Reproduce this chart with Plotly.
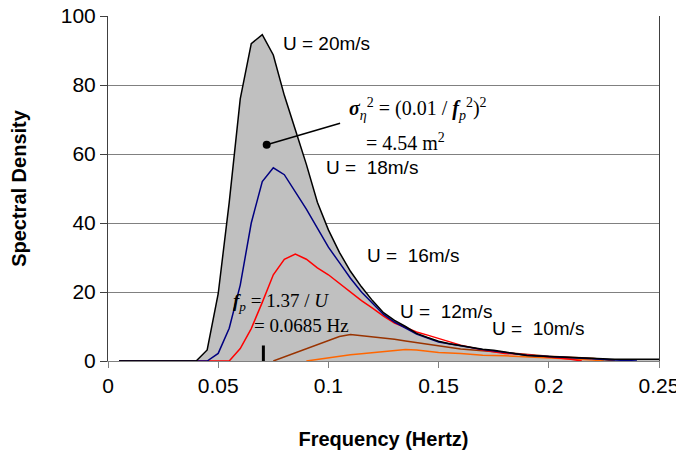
import plotly.graph_objects as go

# U = 20 m/s (black, grey fill)
f20 = [0.005, 0.04, 0.045, 0.05, 0.055, 0.06, 0.065, 0.07, 0.075, 0.08, 0.085, 0.09, 0.095, 0.1,
       0.105, 0.11, 0.115, 0.12, 0.125, 0.13, 0.135, 0.14, 0.145, 0.15, 0.155, 0.16, 0.165, 0.17,
       0.175, 0.18, 0.185, 0.19, 0.2, 0.21, 0.22, 0.23, 0.25]
s20 = [0, 0, 3.2, 19.5, 46, 76, 92, 94.6, 88.7, 77, 67, 57, 46, 38,
       31.5, 26, 21.5, 17.5, 14, 11.8, 10, 8, 6.8, 5.7, 5, 4.4, 3.9, 3.4,
       3.1, 2.6, 2.0, 1.6, 1.3, 1.0, 0.8, 0.5, 0.5]

# U = 18 m/s (navy)
f18 = [0.005, 0.045, 0.05, 0.055, 0.06, 0.065, 0.07, 0.075, 0.08, 0.085, 0.09, 0.095, 0.1, 0.105,
       0.11, 0.115, 0.12, 0.125, 0.13, 0.135, 0.14, 0.15, 0.16, 0.17, 0.18, 0.19, 0.2, 0.21, 0.22,
       0.23, 0.24]
s18 = [0, 0, 2.2, 9.5, 22, 40, 52, 56, 54, 49, 44, 38.5, 33, 28.5,
       24, 20, 16.8, 13.5, 11.3, 9.5, 7.8, 5.5, 4.3, 3.3, 2.5, 1.7, 1.3, 0.9, 0.6,
       0.3, 0]

# U = 16 m/s (red)
f16 = [0.005, 0.055, 0.06, 0.065, 0.07, 0.075, 0.08, 0.085, 0.09, 0.095, 0.1, 0.105, 0.11, 0.115,
       0.12, 0.125, 0.13, 0.135, 0.14, 0.145, 0.15, 0.155, 0.16, 0.17, 0.18, 0.19, 0.2, 0.21, 0.215]
s16 = [0, 0, 3.6, 9.4, 17, 25, 29.5, 31, 29.5, 27, 25, 22.5, 20, 17.5,
       15.3, 13, 11, 9.6, 8.4, 7.5, 6.5, 5.5, 4.6, 3.2, 2.2, 1.8, 1.2, 0.5, 0]

# U = 12 m/s (brown)
f12 = [0.075, 0.08, 0.085, 0.09, 0.095, 0.1, 0.105, 0.11, 0.115, 0.12, 0.125, 0.13, 0.135, 0.14,
       0.145, 0.15, 0.16, 0.17, 0.18, 0.19, 0.2, 0.21, 0.22, 0.23]
s12 = [0, 1.2, 2.3, 3.5, 4.9, 6.0, 7.1, 7.7, 7.4, 7.0, 6.8, 6.3, 5.8, 5.3,
       4.8, 4.3, 3.5, 3.0, 2.5, 1.8, 1.4, 1.1, 0.8, 0]

# U = 10 m/s (orange)
f10 = [0.09, 0.095, 0.1, 0.105, 0.11, 0.115, 0.12, 0.125, 0.13, 0.135, 0.14, 0.145, 0.15, 0.16,
       0.17, 0.18, 0.19, 0.2, 0.21, 0.22, 0.225]
s10 = [0, 0.5, 1.0, 1.4, 1.8, 2.1, 2.4, 2.7, 2.9, 3.3, 3.2, 2.8, 2.5, 2.2,
       1.7, 1.5, 1.2, 1.0, 0.7, 0.3, 0]

x_ticks = [0, 0.05, 0.1, 0.15, 0.2, 0.25]
x_tick_labels = ["0", "0.05", "0.1", "0.15", "0.2", "0.25"]
y_ticks = [0, 20, 40, 60, 80, 100]

fp_marker = 0.0705  # peak frequency marker

fig = go.Figure()
fig.add_trace(go.Scatter(x=f20, y=s20, mode="lines", fill="tozeroy", fillcolor="#c0c0c0",
                         line=dict(color="rgba(0,0,0,0)", width=0), showlegend=False, hoverinfo="skip"))
fig.add_trace(go.Scatter(x=f10, y=s10, mode="lines", line=dict(color="#ff6600", width=1.5), showlegend=False))
fig.add_trace(go.Scatter(x=f12, y=s12, mode="lines", line=dict(color="#993300", width=1.5), showlegend=False))
fig.add_trace(go.Scatter(x=f16, y=s16, mode="lines", line=dict(color="#ff0000", width=1.5), showlegend=False))
fig.add_trace(go.Scatter(x=f18, y=s18, mode="lines", line=dict(color="#000080", width=1.5), showlegend=False))
fig.add_trace(go.Scatter(x=f20, y=s20, mode="lines", line=dict(color="#000000", width=1.5), showlegend=False))

# arrow pointer with dot
fig.add_trace(go.Scatter(x=[0.1053, 0.072], y=[68.9, 62.7], mode="lines",
                         line=dict(color="black", width=1.5), showlegend=False))
fig.add_trace(go.Scatter(x=[0.072], y=[62.7], mode="markers",
                         marker=dict(color="black", size=8), showlegend=False))

fig.add_shape(type="line", x0=fp_marker, x1=fp_marker, y0=0, y1=4.5,
              line=dict(color="black", width=3))

lab_font = dict(family="Liberation Sans, Arial", size=19, color="black")
for txt, x, y in [("U = 20m/s", 0.099, 92), ("U =  18m/s", 0.1199, 56.2), ("U =  16m/s", 0.1383, 30.5),
                  ("U =  12m/s", 0.1534, 14.4), ("U =  10m/s", 0.1952, 9.5)]:
    fig.add_annotation(x=x, y=y, text=txt, showarrow=False, font=lab_font, xanchor="center", yanchor="middle")

serif = dict(family="Liberation Serif, Times New Roman", size=20, color="black")
fig.add_annotation(x=0.1405, y=73, text="<b><i>σ</i></b><sub><i>η</i></sub><sup>2</sup> = (0.01 / <b><i>f</i></b><sub><i>p</i></sub><sup>2</sup>)<sup>2</sup>",
                   showarrow=False, font=serif, xanchor="center", yanchor="middle")
fig.add_annotation(x=0.135, y=63.4, text="= 4.54 m<sup>2</sup>", showarrow=False, font=serif,
                   xanchor="center", yanchor="middle")
serif2 = dict(family="Liberation Serif, Times New Roman", size=19, color="black")
fig.add_annotation(x=0.0785, y=17, text="<b><i>f</i></b><sub><i>p</i></sub> = 1.37 / <i>U</i>", showarrow=False,
                   font=serif2, xanchor="center", yanchor="middle")
fig.add_annotation(x=0.088, y=10.2, text="= 0.0685 Hz", showarrow=False, font=serif2,
                   xanchor="center", yanchor="middle")

tick_font = dict(family="Liberation Sans, Arial", size=21, color="black")
fig.update_layout(
    width=676, height=448,
    margin=dict(l=100, r=25, t=8, b=95),
    paper_bgcolor="white", plot_bgcolor="white",
    xaxis=dict(range=[0, 0.25], tickvals=x_ticks, ticktext=x_tick_labels, showgrid=False,
               zeroline=False, showline=True, linecolor="#808080", linewidth=1, automargin=False,
               ticks="outside", ticklen=6, tickcolor="#808080", tickfont=tick_font,
               ticklabeloverflow="allow",
               title=dict(text="<b>Frequency (Hertz)</b>", font=dict(family="Liberation Sans, Arial", size=20, color="black"),
                          standoff=35)),
    yaxis=dict(range=[0, 100], tickvals=y_ticks, showgrid=True, gridcolor="#808080", gridwidth=1,
               zeroline=False, showline=True, linecolor="#404040", linewidth=1, mirror=True, automargin=False,
               ticks="outside", ticklen=7, tickcolor="#404040", tickfont=tick_font,
               ticklabeloverflow="allow",
               title=dict(text="<b>Spectral Density</b>", font=dict(family="Liberation Sans, Arial", size=20, color="black"),
                          standoff=36)),
)

fig.write_html("out.html")
